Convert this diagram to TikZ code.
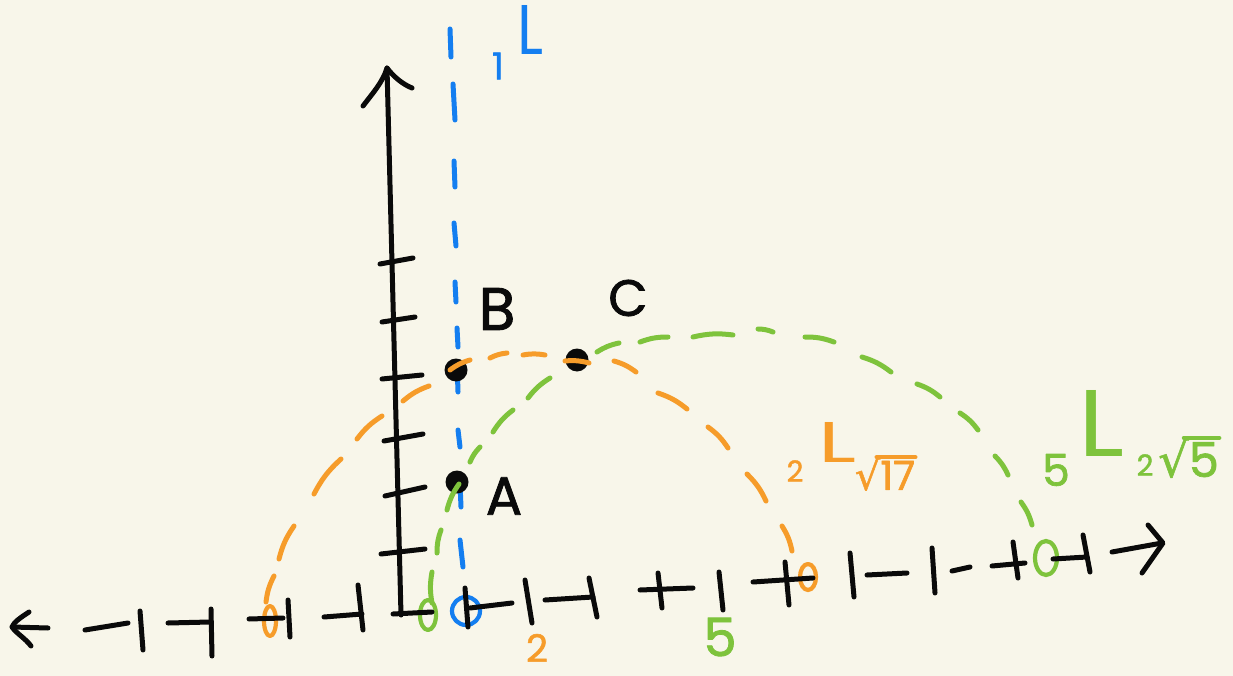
\documentclass[tikz,border=0pt]{standalone}
\usepackage{graphicx}
\usepackage{fontspec}
\setmainfont{Poppins}[FakeBold=1.5]
\newfontfamily\plainL{Poppins}
\newfontfamily\djv{DejaVu Sans}[FakeBold=1.2]
\definecolor{bg}{RGB}{248,246,234}
\definecolor{ink}{RGB}{10,10,10}
\definecolor{org}{RGB}{246,156,42}
\definecolor{grn}{RGB}{126,195,60}
\definecolor{blu}{RGB}{20,126,240}
\newcommand{\fsz}[1]{\fontsize{#1}{#1}\selectfont}
\begin{document}
\begin{tikzpicture}[x=1pt,y=-1pt,line cap=round,line join=round,
  pen/.style={draw=ink,line width=5pt},
  odash/.style={draw=org,line width=5pt},
  gdash/.style={draw=grn,line width=5pt},
  bdash/.style={draw=blu,line width=5pt},
  ring/.style={line width=4.2pt},
  ptdot/.style={circle,fill=ink,minimum size=23pt,inner sep=0pt},
  lab/.style={inner sep=0pt,text=ink}]
\useasboundingbox (0,0) rectangle (1233,676);
\fill[bg] (0,0) rectangle (1233,676);

% blue dashed line L
\foreach \xa/\ya/\xb/\yb in {450/29/451/57, 453/84/455/120, 454/161/455/187, 454/223/456/246,
  455/282/456/302, 457/328/458/347, 457/362/458/392, 458/430/460/447, 460/483/461/507, 460/540/463/567}
  \draw[bdash] (\xa,\ya) -- (\xb,\yb);

% markers on the x axis
\draw[ring,org] (270,621) ellipse [x radius=6,y radius=15];
\draw[ring,grn] (428,615) ellipse [x radius=8,y radius=15];
\draw[ring,blu] (466,611) ellipse [x radius=14,y radius=14];
\draw[ring,org] (808,577) ellipse [x radius=8,y radius=13];
\draw[ring,grn] (1046,558) ellipse [x radius=11,y radius=17];

% y axis
\draw[pen] (387,68) -- (401,615);
\draw[pen] (363,106) .. controls (372,94) and (383,82) .. (387,68) .. controls (393,76) and (402,84) .. (412,88);
\foreach \xa/\ya/\xb/\yb in {380/264/413/258, 382/322/415/317, 382/379/422/375, 384/441/423/434,
  385/496/425/487, 381/554/425/549}
  \draw[pen] (\xa,\ya) -- (\xb,\yb);

% x axis
\draw[pen] (29,612) .. controls (20,618) and (14,622) .. (12,627) .. controls (17,634) and (25,638) .. (31,646);
\draw[pen] (12,627) -- (48,628);
\foreach \xa/\ya/\xb/\yb in {85/630/128/623, 140/611/143/650, 168/623/210/622, 211/609/212/656,
  249/619/283/618, 288/600/290/637, 324/617/362/614, 358/585/363/630, 393/614/432/612,
  465/588/468/627, 470/608/512/603, 525/580/532/623, 545/600/593/597, 589/578/597/617,
  640/590/693/588, 658/573/662/608, 719/572/723/610, 753/582/813/578, 785/562/789/605,
  850/553/854/597, 867/575/907/573, 932/548/935/593, 952/571/970/567, 992/566/1025/563,
  1013/542/1018/578, 1053/559/1087/557, 1083/535/1090/572, 1112/552/1162/543}
  \draw[pen] (\xa,\ya) -- (\xb,\yb);
\draw[pen] (1148,525) -- (1163,543) -- (1142,573);

% points
\node[ptdot] (B) at (456,370) {};
\node[ptdot] (A) at (457,482) {};
\node[ptdot] (C) at (577,360) {};

% orange dashed arc
\foreach \xa/\ya/\xb/\yb in {266/602/274/576, 279/559/294/526, 314/494/341/459, 357/439/382/416,
  403/401/429/386, 450/370/470/360, 490/358/507/353, 523/355/545/355, 565/361/589/363,
  614/361/636/372, 658/393/687/409, 708/427/728/448, 747/474/766/501, 782/526/792/551}
  \draw[odash] (\xa,\ya) to[bend left=10] (\xb,\yb);

% green dashed arc
\foreach \xa/\ya/\xb/\yb in {432/603/432/572, 437/553/441/530, 447/510/459/484, 470/462/480/447,
  493/432/513/410, 528/398/550/378, 597/352/619/343, 640/342/668/337, 693/337/733/335,
  758/329/773/332, 805/337/834/342, 862/357/891/372, 917/384/940/397, 960/413/978/430,
  995/456/1008/475, 1021/502/1032/525}
  \draw[gdash] (\xa,\ya) to[bend left=10] (\xb,\yb);

% labels
\node[lab,font=\fsz{60}] (labB) at (497,309) {B};
\node[lab,font=\fsz{51}] (labC) at (628,298) {C};
\node[lab,font=\fsz{54}] (labA) at (504,496) {A};
\node[lab,text=org,font=\fsz{38}] (ctrO) at (537,648) {2};
\node[lab,text=grn,font=\fsz{53}] (ctrG) at (720,637) {5};
\node[lab,text=blu,font=\fsz{37}] (one) at (498,66) {1};
\node[lab,text=blu] (Lb) at (530,30) {\resizebox{26pt}{49pt}{\plainL L}};
\node[lab,text=org,font=\fsz{29}] (two) at (795,471) {2};
\node[lab,text=org] (Lo) at (838,442) {\resizebox{38pt}{40pt}{\plainL L}};
\node[lab,text=org,font=\fsz{40}] (r17) at (885,474) {{\djv √}17};
\draw[org,line width=4.5pt] ([xshift=22pt]r17.north west) -- (r17.north east);
\node[lab,text=grn,font=\fsz{29}] (c2) at (1145,465) {2};
\node[lab,text=grn,font=\fsz{48},anchor=west] (r5) at (1158,458) {{\djv √}5};
\draw[grn,line width=4.5pt] ([xshift=26pt]r5.north west) -- (r5.north east);
\node[lab,text=grn,font=\fsz{44}] (five) at (1056,470) {5};
\node[lab,text=grn] (Lg) at (1102,423) {\resizebox{46pt}{66pt}{\plainL L}};
\end{tikzpicture}
\end{document}
